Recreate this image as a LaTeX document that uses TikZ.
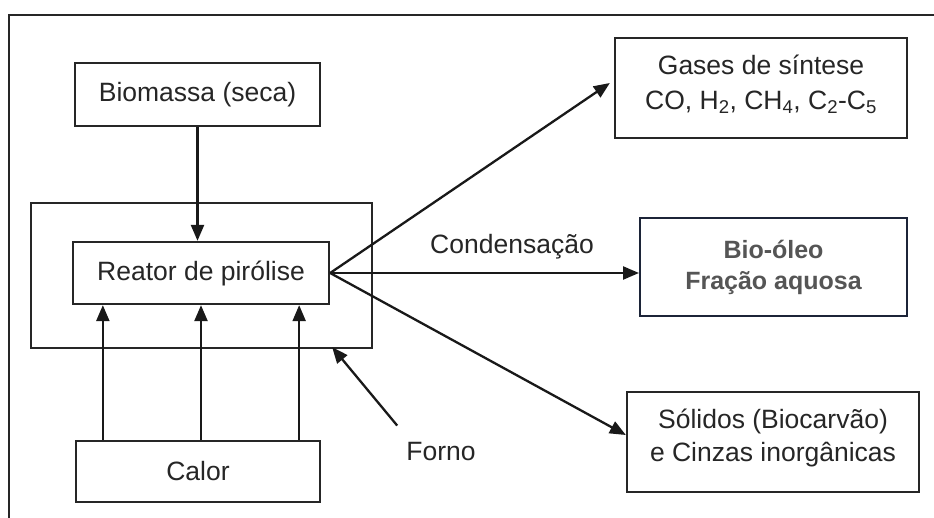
\documentclass[tikz,border=0pt]{standalone}
\usepackage{fontspec}
\setmainfont{Liberation Sans}
\usetikzlibrary{arrows.meta,calc}
\definecolor{edge}{RGB}{38,38,38}
\definecolor{navy}{RGB}{28,36,56}
\definecolor{softgray}{RGB}{85,85,85}

\begin{document}
\begin{tikzpicture}[x=1pt,y=-1pt,
  box/.style={draw=edge, line width=2.3pt, inner sep=0pt, align=center,
    font=\fontsize{26.5}{35}\selectfont, text=black!85},
  txt/.style={inner sep=0pt, align=center,
    font=\fontsize{26.5}{35}\selectfont, text=black!85},
  arr/.style={draw=black!90, line width=2.3pt,
    -{Triangle[length=16pt,width=13pt]}},
  lbl/.style={font=\fontsize{26.5}{30}\selectfont, text=black!85, inner sep=0pt}]

  % page
  \fill[white] (0,0) rectangle (934,518);
  \useasboundingbox (0,0) rectangle (934,518);

  % frame around the figure
  \draw[edge, line width=2pt] (9,518) -- (9,15) -- (934,15);

  % furnace and reactor
  \node[box, minimum width=341pt, minimum height=145pt] (forno) at (201.5,275.5) {};
  \node[box, fill=white, minimum width=256pt, minimum height=62pt] (reator) at (201,273) {Reator de pirólise};

  % inputs
  \node[box, minimum width=245pt, minimum height=63pt] (biomassa) at (197.5,94.5) {Biomassa (seca)};
  \node[box, minimum width=244pt, minimum height=61pt] (calor) at (198,471.5) {Calor};

  % products
  \node[box, minimum width=292pt, minimum height=100pt] (gases) at (761,88) {};
  \node[txt] (gasestxt) at ($(gases.center)+(0,-4)$)
    {Gases de síntese\\CO, H\textsubscript{2}, CH\textsubscript{4}, C\textsubscript{2}-C\textsubscript{5}};
  \node[box, draw=navy, line width=2pt, minimum width=267pt, minimum height=98pt,
    text=softgray, font=\fontsize{25}{31}\selectfont\bfseries] (oleo) at (773.5,267)
    {Bio-óleo\\Fração aquosa};
  \node[box, minimum width=292pt, minimum height=100pt] (solidos) at (773,442) {};
  \node[txt] (solidostxt) at ($(solidos.center)+(0,-4)$)
    {Sólidos (Biocarvão)\\[-2pt]e Cinzas inorgânicas};

  % labels
  \node[lbl] (cond) at (512,247) {Condensação};
  \node[lbl] (fornolbl) at (441,452) {Forno};

  % feed and heat
  \draw[arr] (biomassa.south) -- (biomassa.south |- reator.north);
  \foreach \f/\n in {0.12/a,0.5/b,0.88/c}{
    \coordinate (heat\n) at ($(reator.south west)!\f!(reator.south east)$);
    \draw[arr] (heat\n |- calor.north) -- (heat\n);
  }

  % product streams
  \draw[arr] (reator.east) -- ($(gases.west)+(-4,-5)$);
  \draw[arr] (reator.east) -- (oleo.west |- reator.east);
  \draw[arr] (reator.east) -- ($(solidos.west)+(0,-7)$);

  % furnace pointer
  \coordinate (fornotip) at ($(forno.south east)+(-41,-2)$);
  \draw[arr] ($(fornolbl.north west)+(-9,-17)$) -- (fornotip);
\end{tikzpicture}
\end{document}
